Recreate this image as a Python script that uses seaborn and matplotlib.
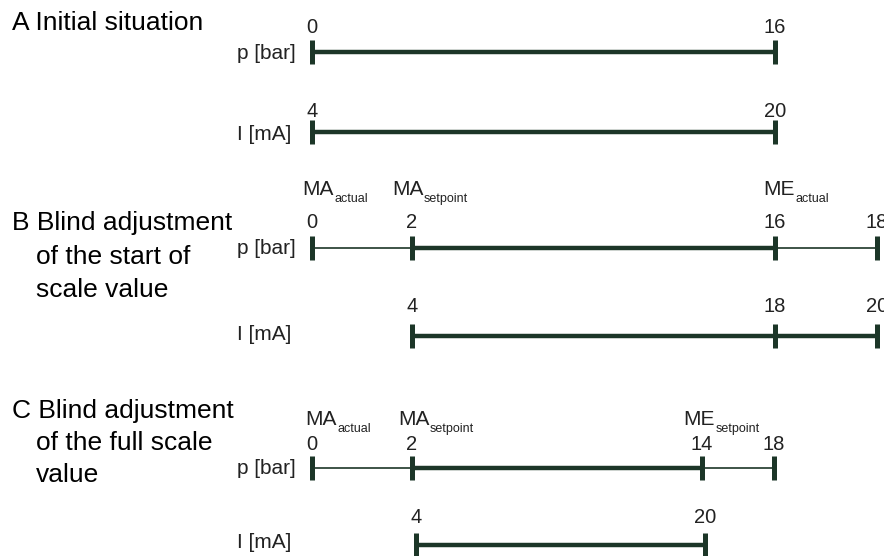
import matplotlib
matplotlib.use('Agg')
import matplotlib.pyplot as plt
import seaborn as sns
import pandas as pd

sns.set_theme(style='white')
plt.rcParams['font.family'] = ['Liberation Sans', 'DejaVu Sans']

INK = '#1c3628'
TXT = '#222222'

# --- section headings ---
head_a = ['A Initial situation']
head_b = ['B Blind adjustment', 'of the start of', 'scale value']
head_c = ['C Blind adjustment', 'of the full scale', 'value']

# --- scale marks: position along the drawing and printed value ---
a_p_pos = [312, 775]
a_p_val = ['0', '16']
a_i_pos = [312, 775]
a_i_val = ['4', '20']

b_p_pos = [312, 412, 775, 877]
b_p_val = ['0', '2', '16', '18']
b_i_pos = [412, 775, 877]
b_i_val = ['4', '18', '20']

c_p_pos = [312, 412, 702, 774]
c_p_val = ['0', '2', '14', '18']
c_i_pos = [416, 705]
c_i_val = ['4', '20']

# measuring range (thick part) of each scale
a_p_range = [312, 775]
a_i_range = [312, 775]
b_p_range = [412, 775]
b_i_range = [412, 877]
c_p_range = [412, 702]
c_i_range = [416, 705]

# start / end value names above the pressure scale
b_names = ['MA', 'MA', 'ME']
b_subs = ['actual', 'setpoint', 'actual']
c_names = ['MA', 'MA', 'ME']
c_subs = ['actual', 'setpoint', 'setpoint']

# layout: (ticks, values, range, line y, value baseline, label, label baseline)
rows = [
    (a_p_pos, a_p_val, a_p_range, 52, 33, 'p [bar]', 59),
    (a_i_pos, a_i_val, a_i_range, 132, 117, 'I [mA]', 140),
    (b_p_pos, b_p_val, b_p_range, 248, 228, 'p [bar]', 254),
    (b_i_pos, b_i_val, b_i_range, 336, 312, 'I [mA]', 340),
    (c_p_pos, c_p_val, c_p_range, 468, 450, 'p [bar]', 474),
    (c_i_pos, c_i_val, c_i_range, 545, 523, 'I [mA]', 548),
]

fig = plt.figure(figsize=(8.84, 5.56), dpi=100)
ax = fig.add_axes([0, 0, 1, 1])

# line segments: thin full scale, thick measuring range on top
seg_rows = []
for k, (pos, val, rng, y, yv, lab, yl) in enumerate(rows):
    seg_rows.append({'seg': f'{k}thin', 'x': min(pos), 'y': y, 'w': 'thin'})
    seg_rows.append({'seg': f'{k}thin', 'x': max(pos), 'y': y, 'w': 'thin'})
    seg_rows.append({'seg': f'{k}thick', 'x': rng[0], 'y': y, 'w': 'thick'})
    seg_rows.append({'seg': f'{k}thick', 'x': rng[1], 'y': y, 'w': 'thick'})
seg_df = pd.DataFrame(seg_rows)

sns.lineplot(data=seg_df, x='x', y='y', units='seg', estimator=None,
             size='w', sizes={'thin': 1.2, 'thick': 3.2}, size_order=['thin', 'thick'],
             color=INK, legend=False, sort=False, ax=ax)
for line in ax.get_lines():
    line.set_solid_capstyle('butt')

for pos, val, rng, y, yv, lab, yl in rows:
    ax.vlines(pos, y - 12, y + 12, colors=INK, lw=3.6)
    for x, v in zip(pos, val):
        ax.text(x, yv, v, ha='center', va='baseline', fontsize=14.5, color=TXT)
    ax.text(237, yl, lab, ha='left', va='baseline', fontsize=15, color=TXT)

# section headings
ax.text(12, 30, head_a[0], fontsize=19, va='baseline', color='black')
for i, (line_txt, yb) in enumerate(zip(head_b, [230, 264, 297])):
    ax.text(12 if i == 0 else 36, yb, line_txt, fontsize=19, va='baseline', color='black')
for i, (line_txt, yb) in enumerate(zip(head_c, [418, 450, 482])):
    ax.text(12 if i == 0 else 36, yb, line_txt, fontsize=19, va='baseline', color='black')


def name_label(x, y, name, sub):
    t = ax.text(x, y, name, fontsize=15, va='baseline', ha='left', color=TXT)
    ax.annotate(sub, xy=(1, 0), xycoords=t, xytext=(0.5, -2), textcoords='offset points',
                fontsize=9, va='baseline', ha='left', color=TXT)


for x, n, s in zip([302, 392, 763], b_names, b_subs):
    name_label(x, 195, n, s)
for x, n, s in zip([305, 398, 683], c_names, c_subs):
    name_label(x, 425, n, s)

ax.set_xlim(0, 884)
ax.set_ylim(556, 0)
ax.set_axis_off()

fig.savefig('out.png', dpi=100)
